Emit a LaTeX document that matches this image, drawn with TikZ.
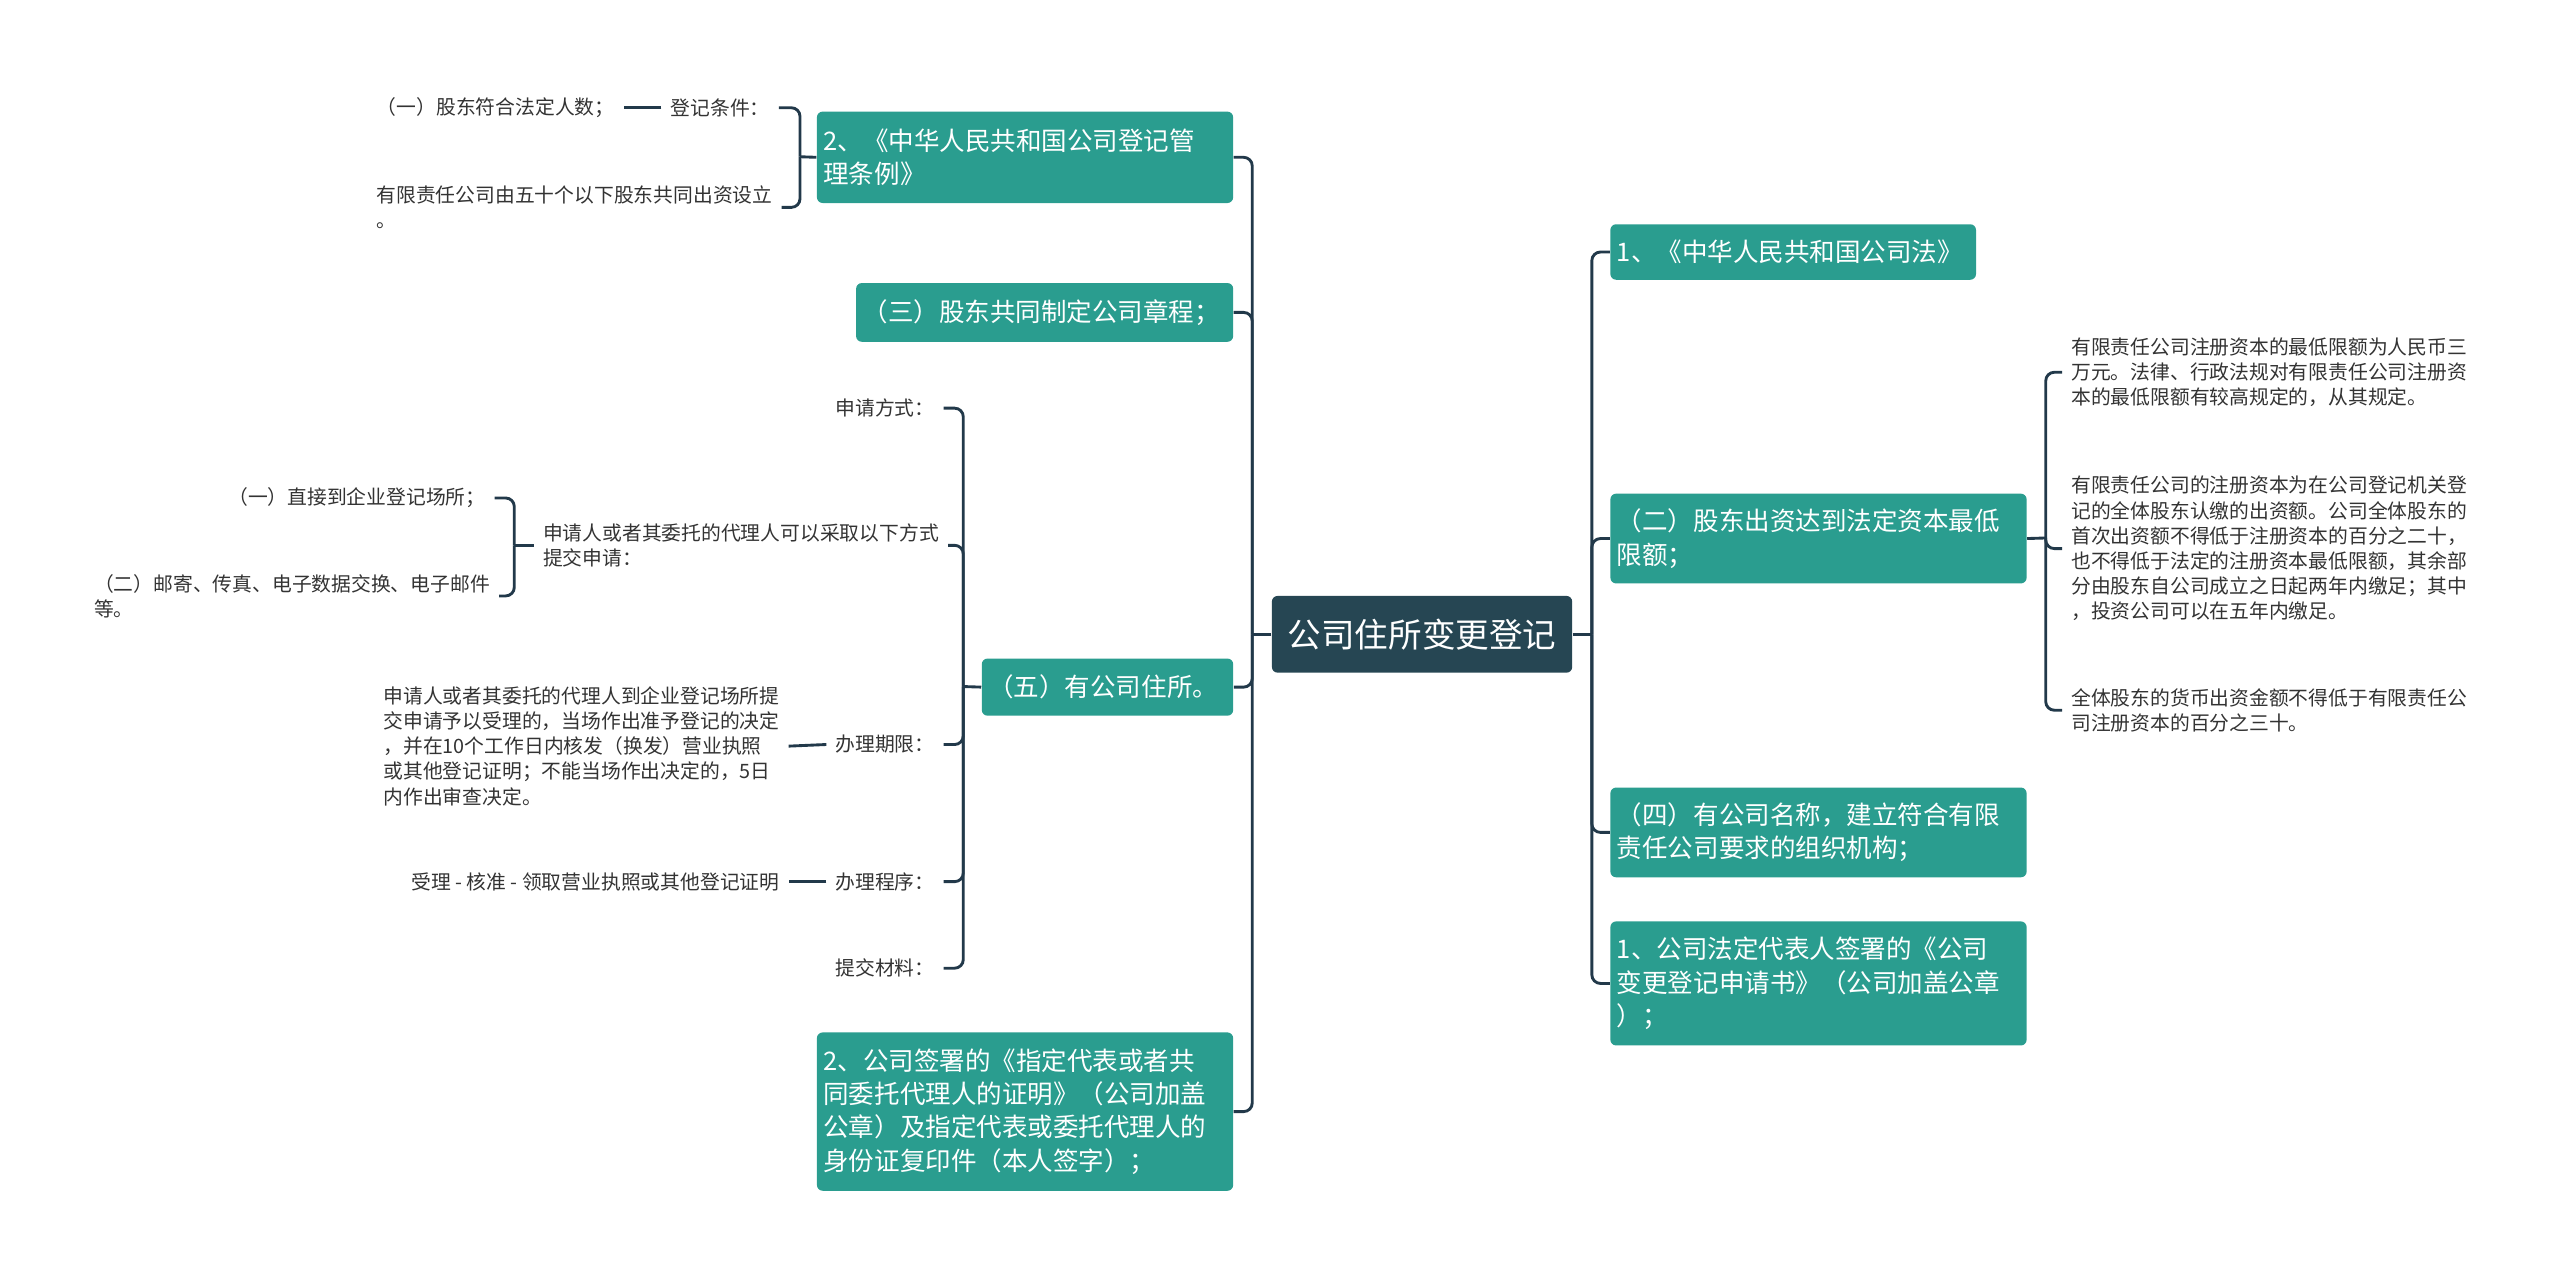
\documentclass[tikz,border=0pt]{standalone}
\usepackage{fontspec}
\newfontfamily\cjk{Noto Sans CJK SC}
\definecolor{branchteal}{HTML}{2A9D8F}
\definecolor{topicblue}{HTML}{264653}
\definecolor{linkblue}{HTML}{22394A}
\definecolor{leafgray}{HTML}{333333}
\tikzset{
    topic/.style={fill=topicblue, text=white, rounded corners=2pt, minimum width=3.68cm, minimum height=0.94cm, inner sep=0pt, font=\cjk\fontsize{11.7pt}{14pt}\selectfont},
    branch/.style={fill=branchteal, text=white, rounded corners=2pt, anchor=north west, align=left, inner xsep=0.08cm, inner ysep=0pt, font=\cjk\fontsize{8.9pt}{11.6pt}\selectfont},
    leaf/.style={text=leafgray, inner xsep=3pt, inner ysep=1pt, align=left, font=\cjk\fontsize{6.9pt}{8.8pt}\selectfont},
    link/.style={draw=linkblue, line width=1pt, rounded corners=3pt},
}
\begin{document}
\begin{tikzpicture}[x=0.02cm, y=-0.02cm]
    \useasboundingbox (0,0) rectangle (1568,782);
    \node[topic] (root) at (871,388.5) {公司住所变更登记};
    \coordinate (lsp) at (767,388.5);
    \coordinate (rsp) at (975,388.5);

    % right side
    \node[branch, text width=4.32cm, minimum height=0.68cm] (r1) at (986,137) {1、《中华人民共和国公司法》};
    \node[branch, text width=4.94cm, minimum height=1.10cm] (r2) at (986,302) {（二）股东出资达到法定资本最低\\限额；};
    \node[branch, text width=4.94cm, minimum height=1.10cm] (r3) at (986,482) {（四）有公司名称，建立符合有限\\责任公司要求的组织机构；};
    \node[branch, text width=4.94cm, minimum height=1.52cm] (r4) at (986,564) {1、公司法定代表人签署的《公司\\变更登记申请书》（公司加盖公章\\）；};
    \draw[link] (root.east) -- (rsp);
    \foreach \n in {r1,r2,r3,r4} {
        \draw[link] (rsp) |- (\n.west);
    }

    \node[leaf, anchor=west] (t1) at (1263,228) {有限责任公司注册资本的最低限额为人民币三\\万元。法律、行政法规对有限责任公司注册资\\本的最低限额有较高规定的，从其规定。};
    \node[leaf, anchor=west] (t2) at (1263,336) {有限责任公司的注册资本为在公司登记机关登\\记的全体股东认缴的出资额。公司全体股东的\\首次出资额不得低于注册资本的百分之二十，\\也不得低于法定的注册资本最低限额，其余部\\分由股东自公司成立之日起两年内缴足；其中\\，投资公司可以在五年内缴足。};
    \node[leaf, anchor=west] (t3) at (1263,435) {全体股东的货币出资金额不得低于有限责任公\\司注册资本的百分之三十。};
    \coordinate (rb2) at (1253,329.5);
    \draw[link] (r2.east) -- (rb2);
    \foreach \n in {t1,t2,t3} {
        \draw[link] (rb2) |- (\n.west);
    }

    % left side
    \node[branch, text width=4.94cm, minimum height=1.12cm] (l1) at (500,68) {2、《中华人民共和国公司登记管\\理条例》};
    \node[branch, text width=4.46cm, minimum height=0.72cm] (l2) at (524,173) {（三）股东共同制定公司章程；};
    \node[branch, text width=2.92cm, minimum height=0.70cm] (l3) at (601,403) {（五）有公司住所。};
    \node[branch, text width=4.94cm, minimum height=1.94cm] (l4) at (500,632) {2、公司签署的《指定代表或者共\\同委托代理人的证明》（公司加盖\\公章）及指定代表或委托代理人的\\身份证复印件（本人签字）；};
    \draw[link] (root.west) -- (lsp);
    \foreach \n in {l1,l2,l3,l4} {
        \draw[link] (lsp) |- (\n.east);
    }

    \node[leaf, anchor=east] (a1) at (477,66) {登记条件：};
    \node[leaf, anchor=east] (a11) at (382,66) {（一）股东符合法定人数；};
    \node[leaf, anchor=west] (a2) at (225,127) {有限责任公司由五十个以下股东共同出资设立\\。};
    \coordinate (lb1) at (490,96);
    \draw[link] (l1.west) -- (lb1);
    \foreach \n in {a1,a2} {
        \draw[link] (lb1) |- (\n.east);
    }
    \draw[link] (a1.west) -- (a11.east);

    \node[leaf, anchor=east] (b1) at (578,250) {申请方式：};
    \node[leaf, anchor=west] (b2) at (327,334) {申请人或者其委托的代理人可以采取以下方式\\提交申请：};
    \node[leaf, anchor=east] (b3) at (578,456) {办理期限：};
    \node[leaf, anchor=east] (b4) at (578,540) {办理程序：};
    \node[leaf, anchor=east] (b5) at (578,593) {提交材料：};
    \coordinate (lb3) at (590,420.5);
    \draw[link] (l3.west) -- (lb3);
    \foreach \n in {b1,b2,b3,b4,b5} {
        \draw[link] (lb3) |- (\n.east);
    }

    \node[leaf, anchor=east] (b21) at (303,305) {（一）直接到企业登记场所；};
    \node[leaf, anchor=west] (b22) at (52,365) {（二）邮寄、传真、电子数据交换、电子邮件\\等。};
    \coordinate (lb2) at (315,334);
    \draw[link] (b2.west) -- (lb2);
    \foreach \n in {b21,b22} {
        \draw[link] (lb2) |- (\n.east);
    }

    \node[leaf, anchor=east] (b31) at (483,457) {申请人或者其委托的代理人到企业登记场所提\\交申请予以受理的，当场作出准予登记的决定\\，并在10个工作日内核发（换发）营业执照\\或其他登记证明；不能当场作出决定的，5日\\内作出审查决定。};
    \node[leaf, anchor=east] (b41) at (483,540) {受理 - 核准 - 领取营业执照或其他登记证明};
    \draw[link] (b3.west) -- (b31.east);
    \draw[link] (b4.west) -- (b41.east);
\end{tikzpicture}
\end{document}
